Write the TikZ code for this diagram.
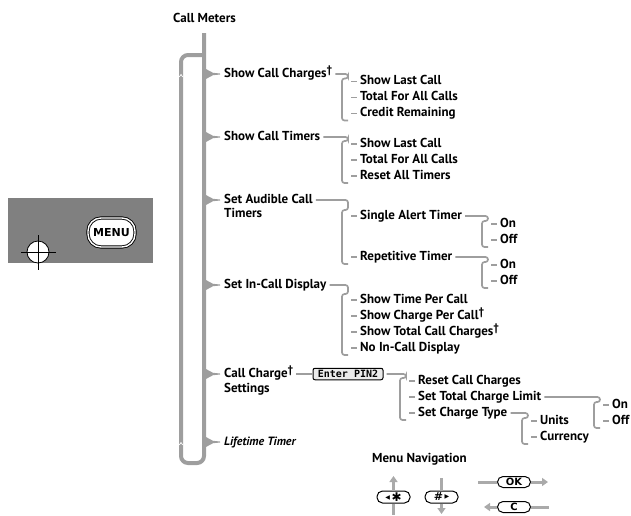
\documentclass[tikz,border=0pt]{standalone}
\usepackage{fontspec}
\setmainfont{PT Sans}
\newfontfamily\symfont{DejaVu Sans}
\newfontfamily\lcdfont{DejaVu Sans Mono}
\usetikzlibrary{positioning, arrows.meta, calc}

\definecolor{linegray}{RGB}{158,158,158}
\definecolor{navgray}{RGB}{170,170,170}
\definecolor{panelgray}{RGB}{128,128,128}

\newcommand{\dg}{\raisebox{4pt}{\fontsize{11}{11}\selectfont\bfseries †}}

\begin{document}
\begin{tikzpicture}[
    x=1pt, y=-1pt,
    % text of the menu tree
    item/.style={
        anchor=west,
        inner sep=0pt,
        text height=9pt,
        text depth=2.5pt,
        font=\fontsize{13}{15}\selectfont\bfseries
    },
    sub/.style={item},
    row/.style={below=16pt of #1, anchor=west},
    % grey tree lines
    trunk/.style={draw=linegray, line width=4pt, rounded corners=7pt},
    brk/.style={draw=linegray, line width=1.7pt, rounded corners=2.5pt},
    tick/.style={draw=linegray, line width=1.3pt},
    % key pictures
    btn/.style={draw, fill=white, line width=1pt, rounded corners=5.5pt,
        minimum width=33pt, minimum height=12pt, inner sep=0pt,
        font=\symfont\fontsize{10}{10}\selectfont\bfseries},
    nav/.style={draw=navgray, line width=3pt, -{Triangle[length=6pt, width=8pt]}},
    navline/.style={draw=navgray, line width=3pt}
]
    \useasboundingbox (0,0) rectangle (631,515);

    % --- Phone panel ---
    \fill[panelgray] (8,198) rectangle (153,263);
    \node[draw, double, double distance=1.4pt, line width=0.9pt, fill=white,
        rounded corners=13pt, minimum width=47pt, minimum height=29pt,
        font=\symfont\fontsize{11}{11}\selectfont\bfseries] (menu) at (111.5,232.5) {MENU};
    \node[circle, draw, fill=white, line width=0.8pt, minimum size=22pt,
        inner sep=0pt] (cross) at (38,252) {};
    \draw[line width=0.9pt] ([xshift=-17pt]cross.center) -- ([xshift=18pt]cross.center);
    \draw[line width=0.9pt] ([yshift=17pt]cross.center) -- ([yshift=-18pt]cross.center);

    % --- Main trunk ---
    \coordinate (top) at (204,33);
    \coordinate (bot) at (204,463);
    \draw[trunk] (top) -- (bot) -- (181,463) -- (181,55) -- (204,55);
    \draw[white, line width=0.7pt] (179.3,77) -- (181,74.5) -- (182.7,77);
    \draw[white, line width=0.7pt] (179.3,445) -- (181,442.5) -- (182.7,445);

    % --- Nodes ---
    \node[item] (title) at (173,19) {Call Meters};

    \node[item] (sc) at (224,74) {Show Call Charges\dg};
    \node[item] (st) at (224,137) {Show Call Timers};
    \node[item] (sa) at (224,200) {Set Audible Call};
    \node[item] (sa2) at (224,214) {Timers};
    \node[item] (sd) at (224,285) {Set In-Call Display};
    \node[item] (cc) at (224,374) {Call Charge\dg};
    \node[item] (cc2) at (224,389) {Settings};
    \node[item, font=\fontsize{12}{14}\selectfont\bfseries\itshape] (lt) at (224,442) {Lifetime Timer};

    % show call charges
    \node[sub] (scA) at (360,81.5) {Show Last Call};
    \node[sub, row=scA.west] (scB) {Total For All Calls};
    \node[sub, row=scB.west] (scC) {Credit Remaining};

    % show call timers
    \node[sub] (stA) at (360,144) {Show Last Call};
    \node[sub, row=stA.west] (stB) {Total For All Calls};
    \node[sub, row=stB.west] (stC) {Reset All Timers};

    % set audible call timers
    \node[sub] (saA) at (360,216) {Single Alert Timer};
    \node[sub] (saB) at (360,257) {Repetitive Timer};
    \node[sub] (onA) at (500,224) {On};
    \node[sub, row=onA.west] (offA) {Off};
    \node[sub] (onB) at (500,265) {On};
    \node[sub, row=onB.west] (offB) {Off};

    % set in-call display
    \node[sub] (sdA) at (360,300) {Show Time Per Call};
    \node[sub, row=sdA.west] (sdB) {Show Charge Per Call\dg};
    \node[sub, row=sdB.west] (sdC) {Show Total Call Charges\dg};
    \node[sub, row=sdC.west] (sdD) {No In-Call Display};

    % call charge settings
    \node[draw, line width=1pt, fill=black!8, rounded corners=2pt,
        minimum width=70pt, minimum height=11.5pt, inner sep=0pt,
        font=\lcdfont\fontsize{10}{10}\selectfont\bfseries] (pin) at (348,374) {Enter PIN2};
    \node[sub] (ccA) at (418,381) {Reset Call Charges};
    \node[sub, row=ccA.west] (ccB) {Set Total Charge Limit};
    \node[sub, row=ccB.west] (ccC) {Set Charge Type};
    \node[sub] (onC) at (612,405) {On};
    \node[sub, row=onC.west] (offC) {Off};
    \node[sub] (unit) at (540,421) {Units};
    \node[sub, row=unit.west] (cur) {Currency};

    % --- Pointers off the trunk ---
    \foreach \n in {sc,st,sa,sd,cc,lt}
        \fill[linegray] ([xshift=-19pt,yshift=5.5pt]\n.west) -- ([xshift=-11pt,yshift=1.2pt]\n.west)
            -- ([xshift=-4pt,yshift=0.5pt]\n.west) -- ([xshift=-4pt,yshift=-0.5pt]\n.west)
            -- ([xshift=-11pt,yshift=-1.2pt]\n.west)
            -- ([xshift=-19pt,yshift=-5.5pt]\n.west) -- cycle;

    % --- Brackets ---
    \draw[brk] ([xshift=3pt]sc.east) -| ([xshift=-12pt,yshift=3pt]scA.west)
        -- ([xshift=-18pt,yshift=3pt]scA.west) |- ([xshift=-12pt,yshift=-7pt]scC.west);
    \draw[brk] ([xshift=3pt]st.east) -| ([xshift=-12pt,yshift=3pt]stA.west)
        -- ([xshift=-18pt,yshift=3pt]stA.west) |- ([xshift=-12pt,yshift=-7pt]stC.west);
    \draw[brk] ([xshift=3pt]sa.east) -| ([xshift=-12pt,yshift=6pt]saA.west)
        -- ([xshift=-18pt,yshift=6pt]saA.west) |- ([xshift=-12pt,yshift=-7pt]saB.west);
    \draw[brk] ([xshift=3pt]saA.east) -| ([xshift=-12pt,yshift=3pt]onA.west)
        -- ([xshift=-18pt,yshift=3pt]onA.west) |- ([xshift=-12pt,yshift=-7pt]offA.west);
    \draw[brk] ([xshift=3pt]saB.east) -| ([xshift=-12pt,yshift=3pt]onB.west)
        -- ([xshift=-18pt,yshift=3pt]onB.west) |- ([xshift=-12pt,yshift=-7pt]offB.west);
    \draw[brk] ([xshift=3pt]sd.east) -| ([xshift=-12pt,yshift=6pt]sdA.west)
        -- ([xshift=-18pt,yshift=6pt]sdA.west) |- ([xshift=-12pt,yshift=-7pt]sdD.west);
    \draw[brk] ([xshift=3pt]cc.east) -- (pin.west);
    \draw[brk] ([xshift=3pt]pin.east) -| ([xshift=-12pt,yshift=3pt]ccA.west)
        -- ([xshift=-18pt,yshift=3pt]ccA.west) |- ([xshift=-12pt,yshift=-7pt]ccC.west);
    \draw[brk] ([xshift=3pt]ccB.east) -| ([xshift=-12pt,yshift=3pt]onC.west)
        -- ([xshift=-18pt,yshift=3pt]onC.west) |- ([xshift=-12pt,yshift=-7pt]offC.west);
    \draw[brk] ([xshift=3pt]ccC.east) -| ([xshift=-12pt,yshift=3pt]unit.west)
        -- ([xshift=-18pt,yshift=3pt]unit.west) |- ([xshift=-12pt,yshift=-7pt]cur.west);

    % little ticks in front of each entry
    \foreach \n in {scA,scB,scC,stA,stB,stC,saA,saB,onA,offA,onB,offB,
                    sdA,sdB,sdC,sdD,ccA,ccB,ccC,onC,offC,unit,cur}
        \draw[tick] ([xshift=-9pt]\n.west) -- ([xshift=-3pt]\n.west);

    % --- Menu navigation ---
    \node[item] (navt) at (372,459) {Menu Navigation};
    \node[btn] (star) at (393.5,497)
        {\raisebox{2pt}{\fontsize{6}{6}\selectfont ◀}\,{\fontsize{12}{12}\selectfont ✱}};
    \node[btn] (hash) at (441.5,497)
        {{\fontsize{11}{11}\selectfont\#}\,\raisebox{2pt}{\fontsize{6}{6}\selectfont ▶}};
    \node[btn, minimum height=11pt] (ok) at (514,482) {OK};
    \node[btn, minimum height=11pt] (cbtn) at (514,507) {C};

    \coordinate (starT) at (393.5,476);
    \coordinate (starB) at (393.5,515);
    \coordinate (hashT) at (441.5,478);
    \coordinate (hashB) at (441.5,514);
    \coordinate (okL) at (478,482);
    \coordinate (okR) at (548,482);
    \coordinate (cL) at (484,507);
    \coordinate (cR) at (549,507);

    \draw[nav] (star.north) -- (starT);
    \draw[navline] (star.south) -- (starB);
    \draw[navline] (hashT) -- (hash.north);
    \draw[nav] (hash.south) -- (hashB);
    \draw[navline] (okL) -- (ok.west);
    \draw[nav] (ok.east) -- (okR);
    \draw[nav] (cbtn.west) -- (cL);
    \draw[navline] (cbtn.east) -- (cR);

\end{tikzpicture}
\end{document}
